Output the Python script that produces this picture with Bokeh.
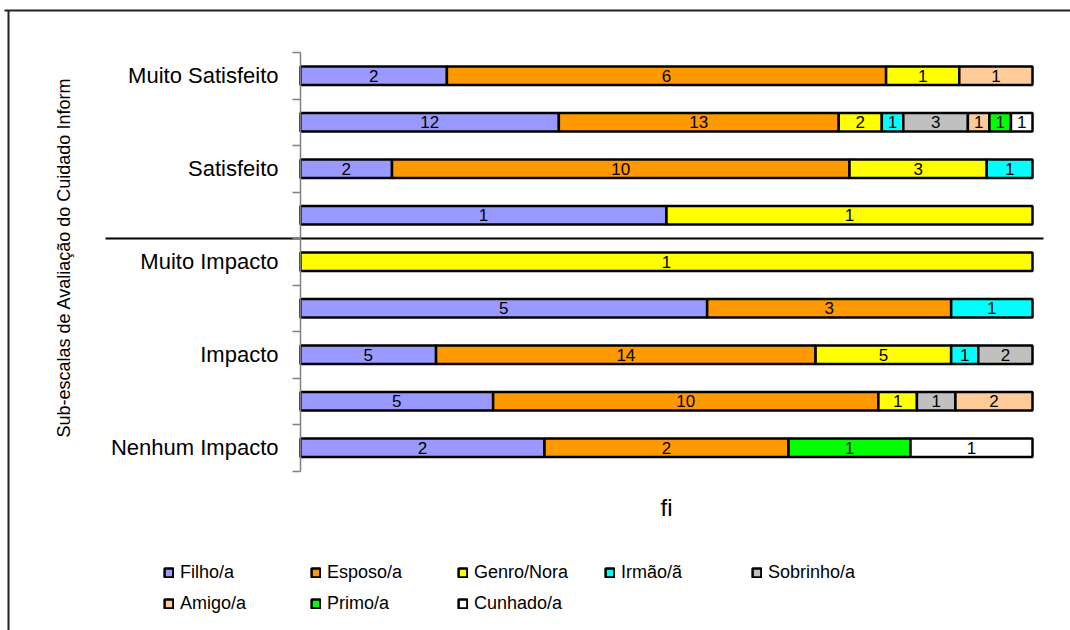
import numpy as np
from bokeh.plotting import figure
from bokeh.models import (ColumnDataSource, Range1d, LinearAxis, FixedTicker,
                          Legend, LegendItem)
from bokeh.core.properties import value
from bokeh.embed import file_html
from bokeh.resources import INLINE

# --- data -----------------------------------------------------------------
rows = ["Muito Satisfeito", "", "Satisfeito", "", "Muito Impacto", "",
        "Impacto", "", "Nenhum Impacto"]
relatives = ["Filho/a", "Esposo/a", "Genro/Nora", "Irmão/ã", "Sobrinho/a",
             "Amigo/a", "Primo/a", "Cunhado/a"]
filho = [2, 12, 2, 1, 0, 5, 5, 5, 2]
esposo = [6, 13, 10, 0, 0, 3, 14, 10, 2]
genro = [1, 2, 3, 1, 1, 0, 5, 1, 0]
irmao = [0, 1, 1, 0, 0, 1, 1, 0, 0]
sobrinho = [0, 3, 0, 0, 0, 0, 2, 1, 0]
amigo = [1, 1, 0, 0, 0, 0, 0, 2, 0]
primo = [0, 1, 0, 0, 0, 0, 0, 0, 1]
cunhado = [0, 1, 0, 0, 0, 0, 0, 0, 1]
colors = ["#9999FF", "#FF9900", "#FFFF00", "#00FFFF", "#C0C0C0",
          "#FFCC99", "#00FF00", "#FFFFFF"]
y_title = "Sub-escalas de Avaliação do Cuidado Inform"
x_title = "fi"

FONT = "Liberation Sans"

# --- layout (pixels) -------------------------------------------------------
W, H = 1070, 630
X0_PX, X1_PX = 300, 1032        # where 0 % and 100 % fall
ROW_TOP_PX, ROW_PITCH = 52, 46.5

SX = X1_PX - X0_PX
x_start = -X0_PX / SX
x_end = x_start + W / SX
y_top = -0.5 - ROW_TOP_PX / ROW_PITCH
y_bottom = y_top + H / ROW_PITCH


def px_x(px):
    return x_start + px / SX


def px_y(py):
    return y_top + py / ROW_PITCH


p = figure(width=W, height=H, output_backend="svg", toolbar_location=None,
           x_range=Range1d(x_start, x_end), y_range=Range1d(y_bottom, y_top),
           x_axis_location=None, y_axis_location=None, min_border=0,
           outline_line_color=None, background_fill_color="white",
           border_fill_color="white")
p.grid.visible = False

# --- stacked 100 % bars ----------------------------------------------------
counts = np.array([filho, esposo, genro, irmao, sobrinho, amigo, primo, cunhado],
                  dtype=float)
totals = counts.sum(axis=0)
cum = np.cumsum(counts, axis=0)
right = cum / totals
left = (cum - counts) / totals
ypos = np.arange(len(rows))

items = []
for k, name in enumerate(relatives):
    m = counts[k] > 0
    src = ColumnDataSource(dict(
        y=ypos[m], left=left[k][m], right=right[k][m],
        mid=(left[k][m] + right[k][m]) / 2,
        lab=[str(int(v)) for v in counts[k][m]]))
    r = p.hbar(y="y", left="left", right="right", height=0.4, source=src,
               fill_color=colors[k], line_color="black", line_width=2.5)
    p.text(x="mid", y="y", text="lab", source=src,
           text_align="center", text_baseline="middle",
           text_font=value(FONT), text_font_size="17px", text_color="black")
    items.append(LegendItem(label=name, renderers=[r]))

# --- category axis at x = 0 ----------------------------------------------
ax = LinearAxis(fixed_location=0, bounds=(-0.5, len(rows) - 0.5),
                ticker=FixedTicker(ticks=list(range(len(rows))),
                                   minor_ticks=[i - 0.5 for i in range(len(rows) + 1)]),
                major_label_overrides={i: lab for i, lab in enumerate(rows)})
ax.axis_line_color = "#808080"
ax.axis_line_width = 1.5
ax.major_tick_line_color = None
ax.major_tick_out = 0
ax.major_tick_in = 0
ax.minor_tick_line_color = "#808080"
ax.minor_tick_line_width = 1.5
ax.minor_tick_out = 8
ax.minor_tick_in = 0
ax.major_label_standoff = 14
ax.major_label_text_font = FONT
ax.major_label_text_font_size = "22px"
ax.major_label_text_color = "black"
p.add_layout(ax, "left")

# separator between satisfaction and impact sub-scales
p.segment(x0=[px_x(105)], x1=[px_x(1043)], y0=[3.5], y1=[3.5],
          line_color="black", line_width=2)

# axis titles
p.text(x=[px_x(63)], y=[px_y(437)], text=[y_title], angle=np.pi / 2,
       text_align="left", text_baseline="middle", text_font=value(FONT),
       text_font_size="18px", text_color="black")
p.text(x=[0.5], y=[px_y(507)], text=[x_title], text_align="center",
       text_baseline="middle", text_font=value(FONT), text_font_size="24px",
       text_color="black")

# frame border of the chart area
p.segment(x0=[px_x(8), px_x(4)], x1=[px_x(8), px_x(1070)],
          y0=[px_y(10), px_y(10)], y1=[px_y(630), px_y(10)],
          line_color="#222222", line_width=2)

legend = Legend(items=items, orientation="horizontal", ncols=5,
                location=(163, 16), glyph_width=11, glyph_height=11,
                label_standoff=6, label_width=120, label_height=20,
                spacing=10, padding=0, margin=0, border_line_color=None,
                background_fill_alpha=0, label_text_font=FONT,
                label_text_font_size="18px", label_text_color="black")
p.add_layout(legend, "center")

open("out.html", "w").write(file_html(p, INLINE))
